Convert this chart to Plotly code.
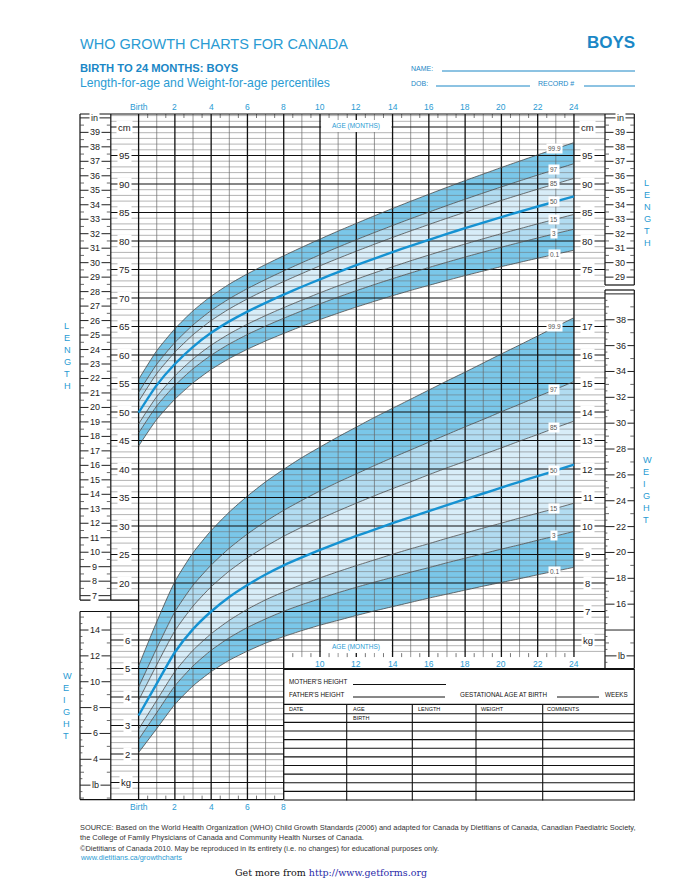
import plotly.graph_objects as go

# ---------------- data ----------------
months = list(range(25))

length_p0_1 = [44.03, 48.70, 52.24, 55.11, 57.46, 59.38, 61.01, 62.46, 63.78, 65.04, 66.22, 67.34, 68.41,
               69.42, 70.40, 71.33, 72.22, 73.09, 73.93, 74.73, 75.51, 76.25, 76.98, 77.68, 78.38]
length_p3 = [46.32, 51.06, 54.66, 57.58, 59.97, 61.93, 63.60, 65.08, 66.45, 67.75, 68.98, 70.16, 71.28,
             72.36, 73.39, 74.39, 75.35, 76.28, 77.19, 78.06, 78.91, 79.73, 80.53, 81.31, 82.07]
length_p15 = [47.92, 52.70, 56.35, 59.31, 61.73, 63.71, 65.41, 66.92, 68.31, 69.64, 70.91, 72.13, 73.29,
              74.41, 75.48, 76.53, 77.53, 78.51, 79.47, 80.39, 81.29, 82.15, 83.01, 83.84, 84.66]
length_p50 = [49.88, 54.72, 58.42, 61.43, 63.89, 65.90, 67.62, 69.16, 70.60, 71.97, 73.28, 74.54, 75.75,
              76.92, 78.05, 79.15, 80.21, 81.25, 82.26, 83.24, 84.20, 85.13, 86.05, 86.94, 87.82]
length_p85 = [51.85, 56.74, 60.49, 63.55, 66.04, 68.09, 69.84, 71.41, 72.89, 74.29, 75.65, 76.95, 78.21,
              79.43, 80.62, 81.77, 82.89, 83.99, 85.05, 86.09, 87.12, 88.11, 89.09, 90.04, 90.98]
length_p97 = [53.44, 58.38, 62.19, 65.27, 67.80, 69.87, 71.65, 73.25, 74.75, 76.19, 77.58, 78.92, 80.22,
              81.48, 82.71, 83.91, 85.07, 86.22, 87.33, 88.42, 89.49, 90.54, 91.57, 92.57, 93.57]
length_p99_9 = [55.73, 60.74, 64.60, 67.75, 70.32, 72.43, 74.24, 75.87, 77.41, 78.90, 80.34, 81.74, 83.09,
                84.42, 85.71, 86.97, 88.20, 89.41, 90.60, 91.75, 92.90, 94.01, 95.12, 96.20, 97.26]

weight_p0_1 = [2.05, 2.89, 3.74, 4.39, 4.89, 5.29, 5.61, 5.89, 6.12, 6.33, 6.52, 6.69, 6.86,
               7.02, 7.17, 7.32, 7.47, 7.61, 7.75, 7.89, 8.02, 8.15, 8.29, 8.42, 8.55]
weight_p3 = [2.51, 3.45, 4.39, 5.09, 5.64, 6.08, 6.44, 6.74, 7.01, 7.24, 7.45, 7.66, 7.85,
             8.03, 8.20, 8.38, 8.54, 8.71, 8.87, 9.03, 9.19, 9.34, 9.50, 9.65, 9.81]
weight_p15 = [2.87, 3.88, 4.89, 5.64, 6.22, 6.69, 7.08, 7.41, 7.69, 7.95, 8.18, 8.40, 8.61,
              8.81, 9.01, 9.20, 9.38, 9.57, 9.75, 9.93, 10.10, 10.28, 10.45, 10.62, 10.80]
weight_p50 = [3.35, 4.47, 5.57, 6.38, 7.00, 7.51, 7.93, 8.30, 8.62, 8.90, 9.16, 9.41, 9.65,
              9.87, 10.10, 10.31, 10.52, 10.73, 10.94, 11.14, 11.35, 11.55, 11.75, 11.95, 12.15]
weight_p85 = [3.88, 5.13, 6.32, 7.19, 7.87, 8.42, 8.88, 9.28, 9.64, 9.96, 10.25, 10.53, 10.80,
              11.06, 11.31, 11.55, 11.80, 12.04, 12.27, 12.51, 12.74, 12.98, 13.21, 13.45, 13.68]
weight_p97 = [4.35, 5.71, 6.99, 7.92, 8.63, 9.22, 9.72, 10.16, 10.55, 10.90, 11.23, 11.54, 11.83,
              12.12, 12.40, 12.67, 12.94, 13.21, 13.48, 13.74, 14.01, 14.27, 14.54, 14.80, 15.07]
weight_p99_9 = [5.09, 6.64, 8.05, 9.06, 9.84, 10.49, 11.05, 11.55, 11.99, 12.40, 12.77, 13.13, 13.47,
                13.81, 14.13, 14.45, 14.77, 15.09, 15.40, 15.72, 16.04, 16.35, 16.67, 16.99, 17.31]

percentile_names = ["0.1", "3", "15", "50", "85", "97", "99.9"]

top_month_ticks = list(range(0, 25, 2))
top_month_text = ["Birth"] + [str(v) for v in range(2, 25, 2)]
lowleft_month_ticks = [0, 2, 4, 6, 8]
lowleft_month_text = ["Birth", "2", "4", "6", "8"]
mid_month_ticks = list(range(10, 25, 2))
mid_month_text = [str(v) for v in mid_month_ticks]
cm_left_ticks = list(range(20, 100, 5))
cm_right_ticks = [75, 80, 85, 90, 95]
kg_left_ticks = [2, 3, 4, 5, 6]
kg_right_ticks = list(range(7, 18))
in_left_ticks = list(range(7, 40))
in_right_ticks = list(range(29, 40))
lb_left_ticks = [4, 6, 8, 10, 12, 14]
lb_right_ticks = list(range(16, 39, 2))

# ---------------- calibration of the printed grid ----------------
W, H = 680, 880
PX_BIRTH, PX_MONTH = 138.6, 18.14
PY_20CM, PX_CM = 583.0, 5.70
LB = 0.45359237


def mx(px):
    return (px - PX_BIRTH) / PX_MONTH


def cy(py):
    return 20 + (PY_20CM - py) / PX_CM


def kg_of_cm(c):
    return (c + 20) / 5.0


x_range = [mx(0), mx(W)]
cm_range = [cy(H), cy(0)]
kg_range = [kg_of_cm(v) for v in cm_range]
in_range = [v / 2.54 for v in cm_range]
lb_range = [v / LB for v in kg_range]

SANS = "Liberation Sans, Arial, sans-serif"
CYAN = "#2a9bd3"
DARK_CYAN = "#1a87c6"
OUTER, MIDDLE, CENTER = "#7ac7e9", "#b2dcf1", "#d8edf8"
MEDIAN = "#1592d2"

# axis ids: y=cm bands, y2=kg bands, y3=cm grid, y4=in, y5=lb, y6=cm lines, y7=kg lines
Y_LEN_BAND, Y_WT_BAND, Y_GRID, Y_IN, Y_LB, Y_LEN_LINE, Y_WT_LINE = "y", "y2", "y3", "y4", "y5", "y6", "y7"

XL_IN, XL_CM = mx(80), mx(110.8)
XR_CM, XR_IN = mx(605), mx(634.3)
Y_TOP = cy(114)
Y_BOT = -18.0
Y_MID_BOT = 7.0
Y_INR_BOT, Y_LBR_TOP, Y_LBR_BOT = cy(285), cy(290), cy(668.5)

fig = go.Figure()

# ---------------- percentile bands ----------------
band_fill = [None, OUTER, MIDDLE, CENTER, CENTER, MIDDLE, OUTER]
length_series = [length_p0_1, length_p3, length_p15, length_p50, length_p85, length_p97, length_p99_9]
weight_series = [weight_p0_1, weight_p3, weight_p15, weight_p50, weight_p85, weight_p97, weight_p99_9]


def add_bands(series, yaxis):
    for s, fc in zip(series, band_fill):
        fig.add_trace(go.Scatter(
            x=months, y=s, yaxis=yaxis, mode="lines",
            line=dict(width=0, shape="spline", smoothing=0.6),
            fill="tonexty" if fc else "none", fillcolor=fc, hoverinfo="skip"))


add_bands(length_series, Y_LEN_BAND)
add_bands(weight_series, Y_WT_BAND)


# ---------------- grid ----------------
def seg_trace(segs, color, width, yaxis):
    xs, ys = [], []
    for (x0, y0, x1, y1) in segs:
        xs += [x0, x1, None]
        ys += [y0, y1, None]
    fig.add_trace(go.Scatter(x=xs, y=ys, yaxis=yaxis, mode="lines",
                             line=dict(color=color, width=width), hoverinfo="skip"))


def hspan(c):
    if c <= 7:
        return XL_CM, 8
    if c == 16:
        return 0, XR_CM
    if c == 15:
        return XL_IN, XR_CM
    return XL_CM, XR_CM


minor_h, major_h = [], []
for c in range(-17, 103):
    x0, x1 = hspan(c)
    (major_h if c % 5 == 0 else minor_h).append((x0, c, x1, c))

minor_v, major_v = [], []
for m in range(0, 25):
    bottom = Y_BOT if m <= 8 else Y_MID_BOT
    (major_v if m % 2 == 0 else minor_v).append((m, Y_TOP, m, bottom))

ticks = []
for k in range(24):
    m = k + 0.5
    ticks.append((m, Y_TOP, m, Y_TOP - 0.7))
    bottom = Y_BOT if m < 8 else Y_MID_BOT
    ticks.append((m, bottom, m, bottom + 0.7))

frames = [
    (XL_IN, Y_TOP, XR_IN, Y_TOP),
    (XL_IN, Y_TOP, XL_IN, 17), (XL_CM, Y_TOP, XL_CM, 17), (XL_IN, 17, 0, 17),
    (XL_IN, 15, XL_IN, Y_BOT), (XL_CM, 15, XL_CM, Y_BOT), (XL_IN, Y_BOT, 8, Y_BOT),
    (XR_CM, Y_TOP, XR_CM, Y_INR_BOT), (XR_IN, Y_TOP, XR_IN, Y_INR_BOT),
    (XR_CM, Y_INR_BOT, XR_IN, Y_INR_BOT), (XR_CM, Y_LBR_TOP, XR_IN, Y_LBR_TOP),
    (XR_CM, Y_LBR_TOP, XR_CM, Y_LBR_BOT), (XR_IN, Y_LBR_TOP, XR_IN, Y_LBR_BOT),
]

seg_trace(minor_h, "rgba(110,110,110,0.65)", 0.8, Y_GRID)
seg_trace(minor_v, "rgba(100,100,100,0.75)", 0.9, Y_GRID)
seg_trace(ticks, "#555555", 0.8, Y_GRID)
seg_trace(major_h, "#111111", 1.2, Y_GRID)
seg_trace(major_v, "#111111", 1.3, Y_GRID)
seg_trace(frames, "#111111", 1.2, Y_GRID)

# inch columns
TK = 0.22
in_segs, in_small = [], []
for v in range(7, 41):
    in_segs.append((XL_IN, v, XL_CM, v))
for v in range(29, 41):
    in_segs.append((XR_CM, v, XR_IN, v))
for k in range(7, 40):
    v = k + 0.5
    in_small += [(XL_IN, v, XL_IN + TK, v), (XL_CM - TK, v, XL_CM, v)]
    if v > 28.6:
        in_small += [(XR_CM, v, XR_CM + TK, v), (XR_IN - TK, v, XR_IN, v)]
seg_trace(in_segs, "#222222", 1.0, Y_IN)
seg_trace(in_small, "#444444", 0.8, Y_IN)

# pound columns
lb_segs, lb_small = [], []
for v in range(2, 16, 2):
    lb_segs.append((XL_IN, v, XL_CM, v))
for v in range(12, 41, 2):
    lb_segs.append((XR_CM, v, XR_IN, v))
for k in range(2, 31):
    v = k / 2
    if v % 2 == 0:
        continue
    ln = TK if v % 1 == 0 else TK * 0.6
    lb_small.append((XL_IN, v, XL_IN + ln, v))
    if v % 1 == 0:
        lb_small.append((XL_CM - ln, v, XL_CM, v))
for k in range(23, 81):
    v = k / 2
    if v % 2 == 0:
        continue
    ln = TK if v % 1 == 0 else TK * 0.6
    lb_small.append((XR_CM, v, XR_CM + ln, v))
    if v % 1 == 0:
        lb_small.append((XR_IN - ln, v, XR_IN, v))
seg_trace(lb_segs, "#222222", 1.0, Y_LB)
seg_trace(lb_small, "#444444", 0.8, Y_LB)


# ---------------- percentile curves ----------------
def add_lines(series, yaxis):
    for i, s in enumerate(series):
        if i == 3:
            continue
        fig.add_trace(go.Scatter(x=months, y=s, yaxis=yaxis, mode="lines",
                                 line=dict(color="#4a4a4a", width=0.8, shape="spline", smoothing=0.6),
                                 hoverinfo="skip"))
    fig.add_trace(go.Scatter(x=months, y=series[3], yaxis=yaxis, mode="lines",
                             line=dict(color=MEDIAN, width=2.4, shape="spline", smoothing=0.6),
                             hoverinfo="skip"))


add_lines(length_series, Y_LEN_LINE)
add_lines(weight_series, Y_WT_LINE)

# ---------------- annotations ----------------
annotations = []
shapes = []


def ann(t, x, y, xref, yref, size=9.5, color="#222222", xanchor="center", yanchor="middle",
        bg=None, family=SANS, pad=0):
    a = dict(text=t, x=x, y=y, xref=xref, yref=yref, showarrow=False,
             font=dict(size=size, color=color, family=family),
             xanchor=xanchor, yanchor=yanchor, borderpad=pad, align="left")
    if bg:
        a["bgcolor"] = bg
    annotations.append(a)


def pann(t, px, py, **kw):
    ann(t, px / W, 1 - py / H, "paper", "paper", **kw)


def pline(x0, y0, x1, y1, color="#111111", width=1.0):
    shapes.append(dict(type="line", xref="paper", yref="paper", x0=x0 / W, y0=1 - y0 / H,
                       x1=x1 / W, y1=1 - y1 / H, line=dict(color=color, width=width), layer="above"))


# percentile labels
for i, name in enumerate(percentile_names):
    ann(name, 22.9, length_series[i][23], "x", Y_LEN_LINE, size=6.5, color="#555555", bg="white", pad=1)
    ann(name, 22.9, weight_series[i][23], "x", Y_WT_LINE, size=6.5, color="#555555", bg="white", pad=1)

# axis labels
for v in cm_left_ticks:
    ann(str(v), mx(124.5), v, "x", Y_GRID, bg="white", pad=1)
ann("cm", mx(124.5), 100, "x", Y_GRID, bg="white", pad=1)
for v in cm_right_ticks:
    ann(str(v), mx(587.5), v, "x", Y_GRID, bg="white", pad=1)
ann("cm", mx(587.5), 100, "x", Y_GRID, bg="white", pad=1)
for v in kg_left_ticks:
    ann(str(v), mx(127.5), v, "x", Y_WT_LINE, bg="white", pad=1)
ann("kg", mx(126), 1, "x", Y_WT_LINE, bg="white", pad=1)
for v in kg_right_ticks:
    ann(str(v), mx(587.5), v, "x", Y_WT_LINE, bg="white", pad=1)
ann("kg", mx(587.5), 6, "x", Y_WT_LINE, bg="white", pad=1)
for v in in_left_ticks:
    ann(str(v), mx(94.5), v, "x", Y_IN, size=9, bg="white", pad=1)
ann("in", mx(94.5), 40, "x", Y_IN, size=9, bg="white", pad=1)
for v in in_right_ticks:
    ann(str(v), mx(620), v, "x", Y_IN, size=9, bg="white", pad=1)
ann("in", mx(620), 40, "x", Y_IN, size=9, bg="white", pad=1)
for v in lb_left_ticks:
    ann(str(v), mx(95), v, "x", Y_LB, size=9, bg="white", pad=1)
ann("lb", mx(95), 2, "x", Y_LB, size=9, bg="white", pad=1)
for v in lb_right_ticks:
    ann(str(v), mx(621), v, "x", Y_LB, size=9, bg="white", pad=1)
ann("lb", mx(621), 12, "x", Y_LB, size=9, bg="white", pad=1)

for m, t in zip(top_month_ticks, top_month_text):
    ann(t, m, cy(107), "x", Y_GRID, size=8.5, color=CYAN)
for m, t in zip(lowleft_month_ticks, lowleft_month_text):
    ann(t, m, cy(807), "x", Y_GRID, size=8.5, color=CYAN)
for m, t in zip(mid_month_ticks, mid_month_text):
    ann(t, m, cy(663.5), "x", Y_GRID, size=8.5, color=CYAN)

# AGE (MONTHS) boxes
for yb, yt in [(132, 120), (653, 641)]:
    shapes.append(dict(type="rect", xref="x", yref="y", x0=10.06, x1=13.94, y0=cy(yb), y1=cy(yt),
                       fillcolor="white", line=dict(width=0), layer="above"))
    ann("AGE (MONTHS)", 12, cy((yb + yt) / 2), "x", Y_GRID, size=6.5, color=CYAN)

# side titles
pann("L<br>E<br>N<br>G<br>T<br>H", 67, 356, size=9.2, color=CYAN)
pann("W<br>E<br>I<br>G<br>H<br>T", 67, 706, size=9.2, color=CYAN)
pann("L<br>E<br>N<br>G<br>T<br>H", 647, 213, size=9.2, color=CYAN)
pann("W<br>E<br>I<br>G<br>H<br>T", 647, 490, size=9.2, color=CYAN)

# header
pann("WHO GROWTH CHARTS FOR CANADA", 79, 44, size=14.5, color=CYAN, xanchor="left")
pann("<b>BOYS</b>", 636, 42, size=17, color=DARK_CYAN, xanchor="right")
pann("<b>BIRTH TO 24 MONTHS: BOYS</b>", 79, 68, size=11.2, color=DARK_CYAN, xanchor="left")
pann("Length-for-age and Weight-for-age percentiles", 79, 82.5, size=12.2, color=CYAN, xanchor="left")
pann("NAME:", 410, 68, size=7, color=DARK_CYAN, xanchor="left")
pann("DOB:", 410, 83, size=7, color=DARK_CYAN, xanchor="left")
pann("RECORD #", 537, 83, size=7, color=DARK_CYAN, xanchor="left")
pline(442, 71, 635, 71, color=DARK_CYAN, width=1)
pline(436, 86, 530, 86, color=DARK_CYAN, width=1)
pline(584, 86, 635, 86, color=DARK_CYAN, width=1)

# record table
pline(284, 669, 634.3, 669, width=2.2)
pline(634.3, 669, 634.3, 800.5, width=1.2)
pline(284, 704.3, 634.3, 704.3, width=1.2)
for k in range(11):
    yy = 713.7 + k * 8.63
    pline(284, yy, 634.3, yy, width=1.1)
for xx in [346.7, 412.3, 476, 542.7]:
    pline(xx, 704.3, xx, 800.5, width=1.1)
pline(353, 684.5, 446, 684.5, width=1)
pline(353, 697, 445, 697, width=1)
pline(557, 697, 599, 697, width=1)
pann("MOTHER'S HEIGHT", 288, 681, size=6.3, color="#111111", xanchor="left")
pann("FATHER'S HEIGHT", 288, 694, size=6.3, color="#111111", xanchor="left")
pann("GESTATIONAL AGE AT BIRTH", 459, 694, size=6.3, color="#111111", xanchor="left")
pann("WEEKS", 604, 694, size=6.3, color="#111111", xanchor="left")
for t, xx in [("DATE", 288), ("AGE", 352), ("LENGTH", 417), ("WEIGHT", 480), ("COMMENTS", 546)]:
    pann(t, xx, 709.3, size=5.5, color="#111111", xanchor="left")
pann("BIRTH", 352, 718, size=5.5, color="#111111", xanchor="left")

# footer
pann("SOURCE: Based on the World Health Organization (WHO) Child Growth Standards (2006) and adapted for Canada "
     "by Dietitians of Canada, Canadian Paediatric Society,", 79, 827, size=7.4, color="#333333", xanchor="left")
pann("the College of Family Physicians of Canada and Community Health Nurses of Canada.", 79, 837.5,
     size=7.4, color="#333333", xanchor="left")
pann("©Dietitians of Canada 2010. May be reproduced in its entirety (i.e. no changes) for educational purposes only.",
     79, 848, size=7.4, color="#333333", xanchor="left")
pann("www.dietitians.ca/growthcharts", 79, 857.5, size=7.4, color=CYAN, xanchor="left")
pann("Get more from <span style='color:#2a2aa8'>http://www.getforms.org</span>", 331, 872, size=9.5,
     color="#111111", family="DejaVu Serif, serif")

# ---------------- layout ----------------
hidden = dict(visible=False, fixedrange=True, showgrid=False, zeroline=False)
fig.update_layout(
    width=W, height=H, margin=dict(l=0, r=0, t=0, b=0),
    paper_bgcolor="white", plot_bgcolor="white", showlegend=False, hovermode=False,
    xaxis=dict(range=x_range, **hidden),
    yaxis=dict(range=cm_range, **hidden),
    yaxis2=dict(range=kg_range, overlaying="y", **hidden),
    yaxis3=dict(range=cm_range, overlaying="y", **hidden),
    yaxis4=dict(range=in_range, overlaying="y", **hidden),
    yaxis5=dict(range=lb_range, overlaying="y", **hidden),
    yaxis6=dict(range=cm_range, overlaying="y", **hidden),
    yaxis7=dict(range=kg_range, overlaying="y", **hidden),
    annotations=annotations, shapes=shapes,
)

fig.write_html("out.html")
